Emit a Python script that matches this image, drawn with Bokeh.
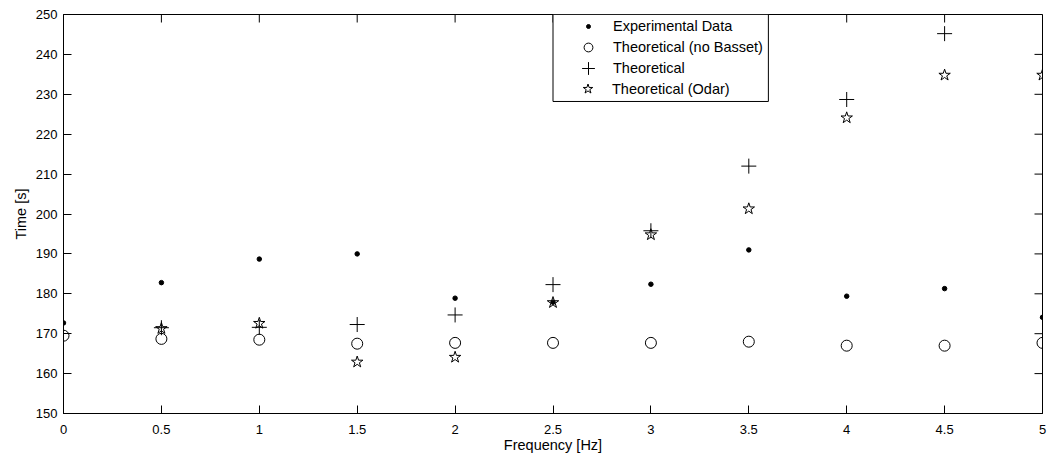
import math
from bokeh.plotting import figure
from bokeh.models import Range1d, FixedTicker, Legend, LegendItem, BoxAnnotation
from bokeh.embed import file_html
from bokeh.resources import INLINE

# ---- data ----
freq = [0, 0.5, 1, 1.5, 2, 2.5, 3, 3.5, 4, 4.5, 5]
experimental = [172.7, 182.8, 188.7, 190.0, 178.9, 177.9, 182.4, 191.0, 179.4, 181.3, 174.1]
no_basset = [169.5, 168.7, 168.5, 167.5, 167.7, 167.7, 167.7, 168.0, 167.0, 167.0, 167.7]
theo_freq = [0.5, 1, 1.5, 2, 2.5, 3, 3.5, 4, 4.5]
theoretical = [171.5, 171.6, 172.3, 174.7, 182.3, 195.8, 212.0, 228.7, 245.2]
odar_freq = [0.5, 1, 1.5, 2, 2.5, 3, 3.5, 4, 4.5, 5]
odar = [171.3, 172.6, 162.9, 164.1, 177.8, 194.8, 201.3, 224.1, 234.8, 234.8]

x_ticks = [0, 0.5, 1, 1.5, 2, 2.5, 3, 3.5, 4, 4.5, 5]
x_tick_labels = ["0", "0.5", "1", "1.5", "2", "2.5", "3", "3.5", "4", "4.5", "5"]
y_ticks = [150, 160, 170, 180, 190, 200, 210, 220, 230, 240, 250]
y_tick_labels = [str(v) for v in y_ticks]

labels = ["Experimental Data", "Theoretical (no Basset)", "Theoretical", "Theoretical (Odar)"]

FONT = "Liberation Sans"
X0, X1, Y0, Y1 = 0, 5, 150, 250

p = figure(width=1049, height=459, output_backend="svg", toolbar_location=None,
           x_range=Range1d(X0, X1), y_range=Range1d(Y0, Y1),
           min_border_left=63, min_border_right=7, min_border_top=14, min_border_bottom=46,
           x_axis_label="Frequency [Hz]", y_axis_label="Time [s]")
p.grid.visible = False
p.outline_line_color = "black"
p.outline_line_width = 1
p.background_fill_color = "white"
p.border_fill_color = "white"

def style_axis(ax, ticks, tick_labels):
    ax.ticker = FixedTicker(ticks=ticks)
    ax.major_label_overrides = {t: l for t, l in zip(ticks, tick_labels)}
    ax.major_tick_in = 8
    ax.major_tick_out = 0
    ax.minor_tick_line_color = None
    ax.axis_line_color = "black"
    ax.major_tick_line_color = "black"
    ax.major_label_text_font = FONT
    ax.major_label_text_font_size = "13px"
    ax.major_label_text_color = "black"
    ax.axis_label_text_font = FONT
    ax.axis_label_text_font_size = "14.5px"
    ax.axis_label_text_font_style = "normal"
    ax.axis_label_text_color = "black"

style_axis(p.xaxis[0], x_ticks, x_tick_labels)
style_axis(p.yaxis[0], y_ticks, y_tick_labels)
p.xaxis[0].major_label_standoff = 11
p.xaxis[0].axis_label_standoff = 0
p.yaxis[0].major_label_standoff = 6
p.yaxis[0].axis_label_standoff = 4

# inward ticks on the top and right edges of the box (MATLAB style)
p.ray(x=x_ticks, y=[Y1] * len(x_ticks), length=8, length_units="screen",
      angle=-math.pi / 2, line_color="black", line_width=1)
p.ray(x=[X1] * len(y_ticks), y=y_ticks, length=8, length_units="screen",
      angle=math.pi, line_color="black", line_width=1)

r_exp = p.scatter(freq, experimental, marker="circle", size=4.5,
                  fill_color="black", line_color="black")
r_nb = p.scatter(freq, no_basset, marker="circle", size=11,
                 fill_color=None, line_color="black", line_width=1)
r_th = p.scatter(theo_freq, theoretical, marker="cross", size=15,
                 line_color="black", line_width=1)
r_od = p.scatter(odar_freq, odar, marker="star", size=12,
                 fill_color=None, line_color="black", line_width=1)

# legend frame
box = BoxAnnotation(left=2.5, right=3.6, top=Y1, bottom=228.2,
                    fill_color="white", fill_alpha=1.0,
                    line_color="black", line_width=1, line_alpha=1.0)
p.add_layout(box)

# one legend per entry so each legend marker can have its own size
legend_marker_px = [4, 9, 13, 10]
frame_h = 459 - 14 - 46
glyph_cx = 525      # marker centre, px from frame left
text_x = 550        # label start, px from frame left
row_top = 12        # first row centre, px below frame top
row_step = 21
for i, (lab, rend, mpx) in enumerate(zip(labels, [r_exp, r_nb, r_th, r_od], legend_marker_px)):
    g = int(round(mpx / 0.4))
    h = max(g, 20)
    cy = frame_h - (row_top + i * row_step)
    lg = Legend(items=[LegendItem(label=lab, renderers=[rend])],
                location=(int(round(glyph_cx - g / 2)), int(round(cy - h / 2))))
    lg.border_line_color = None
    lg.background_fill_alpha = 0
    lg.padding = 0
    lg.margin = 0
    lg.glyph_width = g
    lg.glyph_height = h
    lg.label_height = h
    lg.spacing = 0
    lg.label_standoff = int(round(text_x - (glyph_cx + g / 2)))
    lg.label_text_font = FONT
    lg.label_text_font_size = "14.5px"
    lg.label_text_color = "black"
    p.add_layout(lg, "center")

open("out.html", "w").write(file_html(p, INLINE))
